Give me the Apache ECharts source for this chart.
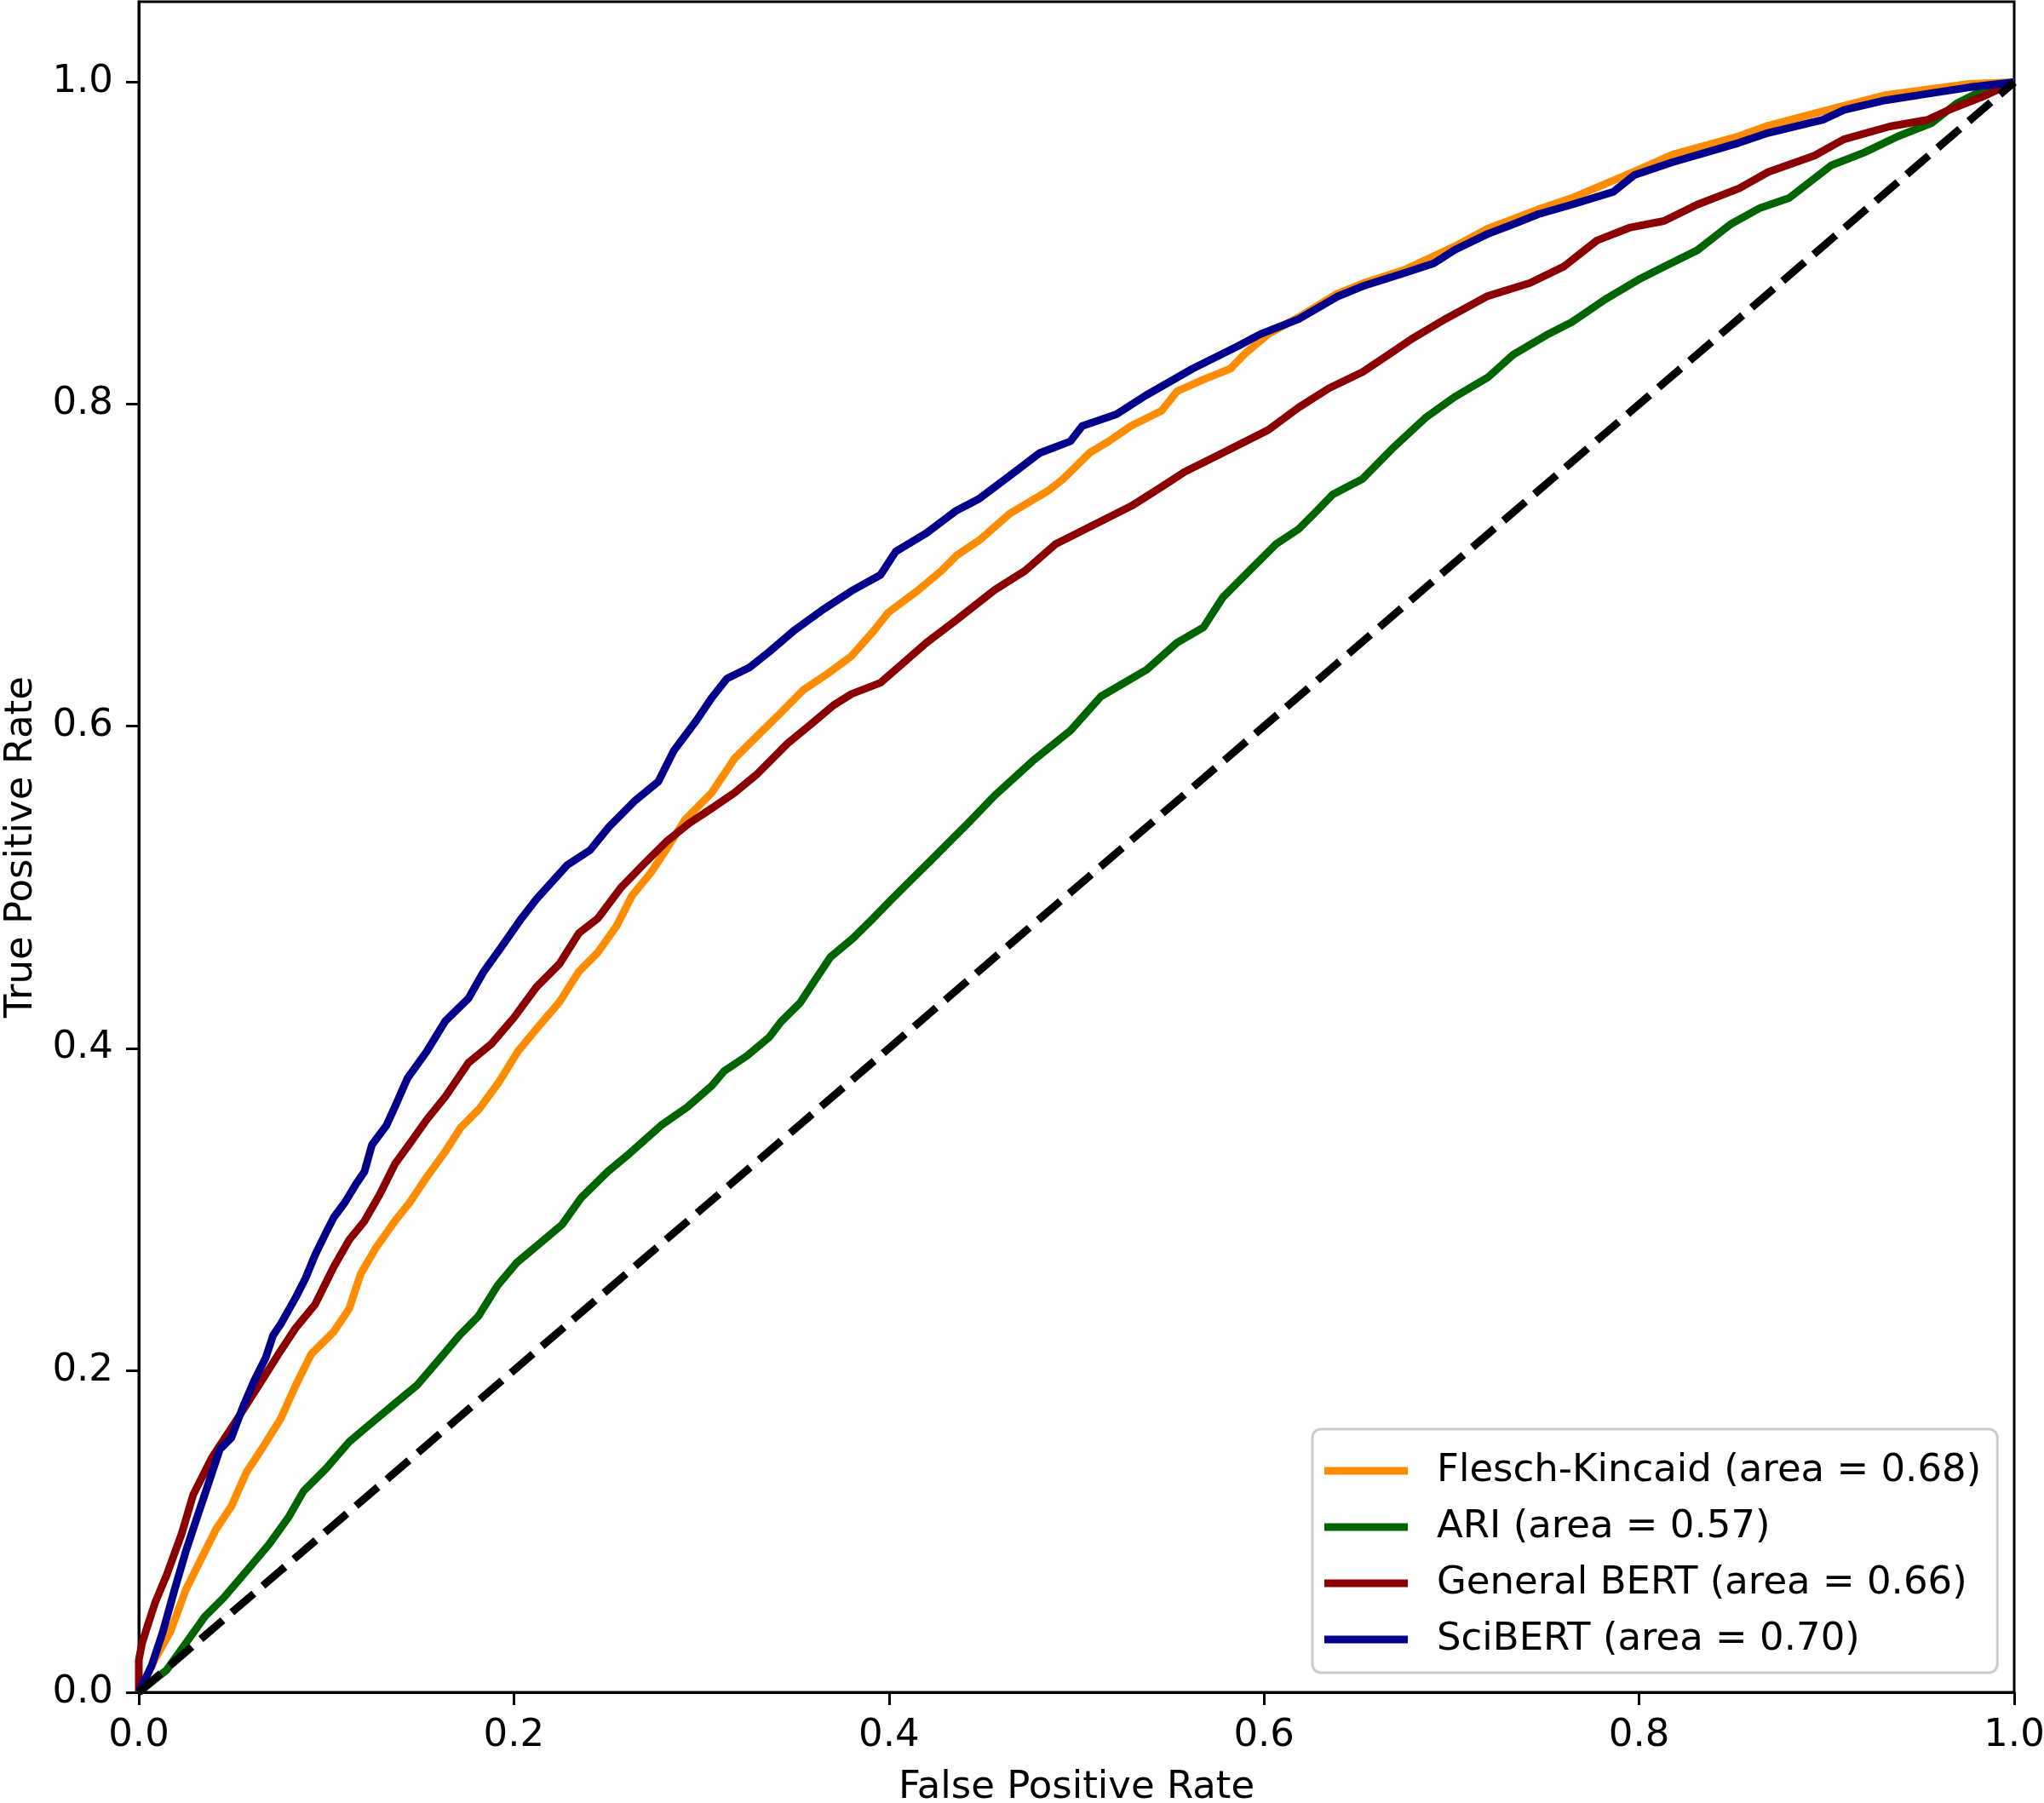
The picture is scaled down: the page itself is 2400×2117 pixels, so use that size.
<!DOCTYPE html>
<html>
<head>
<meta charset="utf-8">
<script src="https://cdn.jsdelivr.net/npm/echarts@6/dist/echarts.min.js"></script>
<style>
html,body{margin:0;padding:0;background:#fff;}
#chart{width:2400px;height:2117px;}
</style>
</head>
<body>
<div id="chart"></div>
<script>
// ---- Data ----
const xTicks = [0, 0.2, 0.4, 0.6, 0.8, 1.0];
const yTicks = [0, 0.2, 0.4, 0.6, 0.8, 1.0];

const seriesNames = [
  'Flesch-Kincaid (area = 0.68)',
  'ARI (area = 0.57)',
  'General BERT (area = 0.66)',
  'SciBERT (area = 0.70)'
];
const seriesColors = ['#FF8C00', '#006400', '#8B0000', '#00008B'];

const fleschKincaid = [[0,0],[0.0088,0.021],[0.0168,0.0375],[0.025,0.0635],[0.0331,0.0825],[0.0412,0.1013],[0.0493,0.1154],[0.0574,0.1367],[0.0655,0.151],[0.0757,0.17],[0.0838,0.191],[0.0919,0.21],[0.104,0.224],[0.1122,0.2383],[0.1183,0.2598],[0.1264,0.276],[0.1365,0.2926],[0.1446,0.3044],[0.1527,0.3186],[0.1629,0.335],[0.1717,0.3508],[0.1817,0.3625],[0.192,0.379],[0.2021,0.398],[0.212,0.412],[0.2243,0.4287],[0.2346,0.4476],[0.2447,0.4594],[0.2548,0.476],[0.263,0.4948],[0.273,0.509],[0.281,0.523],[0.2913,0.542],[0.3055,0.5587],[0.3177,0.58],[0.3298,0.594],[0.342,0.608],[0.3542,0.6224],[0.3663,0.6318],[0.38,0.6436],[0.3915,0.6587],[0.3996,0.6706],[0.4158,0.6847],[0.428,0.6966],[0.436,0.706],[0.4482,0.7155],[0.4644,0.732],[0.4846,0.746],[0.4927,0.7534],[0.507,0.7698],[0.5172,0.777],[0.529,0.7864],[0.5454,0.796],[0.5536,0.808],[0.5677,0.8153],[0.582,0.822],[0.5901,0.8317],[0.6022,0.8435],[0.6185,0.854],[0.6388,0.8685],[0.6526,0.875],[0.6749,0.8835],[0.7016,0.898],[0.7193,0.909],[0.7462,0.921],[0.7641,0.928],[0.7975,0.9445],[0.8177,0.955],[0.8534,0.9665],[0.8688,0.973],[0.898,0.982],[0.9314,0.992],[0.976,0.999],[1,1]];

const ari = [[0,0],[0.0149,0.0139],[0.025,0.0304],[0.0352,0.047],[0.0453,0.0588],[0.0574,0.0753],[0.0695,0.092],[0.0797,0.1085],[0.0878,0.1249],[0.1,0.1391],[0.1122,0.1556],[0.1243,0.1675],[0.1365,0.1793],[0.1486,0.191],[0.1608,0.2076],[0.171,0.2217],[0.1811,0.2336],[0.1912,0.2525],[0.2014,0.2667],[0.2135,0.2785],[0.2257,0.2905],[0.2357,0.3069],[0.25,0.3233],[0.262,0.335],[0.2784,0.352],[0.2925,0.3635],[0.3055,0.3767],[0.312,0.3857],[0.3242,0.3952],[0.3363,0.407],[0.3424,0.4164],[0.3526,0.4282],[0.3606,0.4423],[0.3688,0.4566],[0.3809,0.4684],[0.391,0.48],[0.401,0.492],[0.4133,0.5063],[0.4235,0.518],[0.4336,0.5298],[0.4417,0.5392],[0.4564,0.557],[0.4766,0.5784],[0.4968,0.5974],[0.513,0.6185],[0.5374,0.6351],[0.5536,0.6519],[0.5677,0.6614],[0.578,0.68],[0.5942,0.699],[0.6063,0.713],[0.6185,0.7225],[0.6267,0.732],[0.6367,0.744],[0.6526,0.7537],[0.668,0.772],[0.686,0.7915],[0.7016,0.8045],[0.7193,0.8166],[0.7329,0.8308],[0.7507,0.843],[0.7641,0.851],[0.782,0.8652],[0.7997,0.8774],[0.8132,0.8854],[0.831,0.8956],[0.8488,0.9118],[0.8645,0.9219],[0.88,0.9281],[0.9024,0.9483],[0.92,0.9563],[0.9381,0.9664],[0.956,0.9746],[0.9693,0.9868],[0.9828,0.9947],[1,1]];

const generalBERT = [[0,0],[0,0.02],[0.0017,0.0303],[0.0047,0.0415],[0.0088,0.056],[0.0149,0.073],[0.023,0.099],[0.029,0.1227],[0.0392,0.1462],[0.0513,0.1675],[0.0655,0.1934],[0.0757,0.2123],[0.0838,0.2265],[0.0939,0.2407],[0.104,0.2643],[0.1122,0.281],[0.1203,0.2926],[0.1284,0.309],[0.1365,0.328],[0.1446,0.341],[0.1535,0.3556],[0.1635,0.37],[0.1758,0.391],[0.188,0.4027],[0.2,0.419],[0.212,0.438],[0.2243,0.4524],[0.2346,0.4714],[0.2447,0.4806],[0.2569,0.4995],[0.2688,0.5138],[0.281,0.528],[0.2934,0.5397],[0.3055,0.549],[0.3177,0.5587],[0.3298,0.5704],[0.346,0.5894],[0.3582,0.601],[0.3704,0.613],[0.38,0.62],[0.3955,0.627],[0.42,0.6519],[0.436,0.666],[0.4564,0.6847],[0.4726,0.6966],[0.4887,0.713],[0.509,0.7249],[0.5293,0.7368],[0.5454,0.7487],[0.5577,0.758],[0.578,0.7698],[0.6022,0.784],[0.6185,0.798],[0.6347,0.81],[0.6526,0.82],[0.6638,0.8288],[0.6794,0.841],[0.697,0.8531],[0.7193,0.8672],[0.7418,0.8753],[0.7597,0.8854],[0.7775,0.9017],[0.7953,0.9098],[0.8132,0.9138],[0.831,0.924],[0.8534,0.9341],[0.8688,0.9442],[0.8935,0.9544],[0.9091,0.9645],[0.9336,0.9725],[0.9537,0.9766],[0.9649,0.9827],[0.9828,0.9908],[1,1]];

const sciBERT = [[0,0],[0.0068,0.0164],[0.0128,0.0375],[0.019,0.0635],[0.025,0.0873],[0.031,0.1085],[0.0371,0.1296],[0.0432,0.1509],[0.0493,0.158],[0.0554,0.1769],[0.0615,0.1934],[0.0676,0.2076],[0.0716,0.2217],[0.0757,0.2288],[0.0838,0.2455],[0.0889,0.2572],[0.0939,0.2714],[0.0999,0.2857],[0.104,0.295],[0.11,0.3044],[0.116,0.316],[0.1203,0.3233],[0.1243,0.34],[0.132,0.352],[0.1365,0.3635],[0.1433,0.3815],[0.1535,0.398],[0.1635,0.417],[0.1758,0.431],[0.1839,0.4476],[0.194,0.464],[0.204,0.4806],[0.212,0.4926],[0.2284,0.5138],[0.2406,0.523],[0.2507,0.5375],[0.2648,0.554],[0.277,0.5656],[0.2852,0.5847],[0.2974,0.6037],[0.3055,0.6177],[0.3136,0.6296],[0.3256,0.6365],[0.3359,0.646],[0.35,0.66],[0.3643,0.672],[0.38,0.684],[0.3955,0.694],[0.4036,0.7085],[0.42,0.72],[0.436,0.734],[0.4482,0.7414],[0.4644,0.7556],[0.4805,0.7698],[0.4968,0.777],[0.503,0.7864],[0.5212,0.7937],[0.537,0.8055],[0.5618,0.822],[0.586,0.836],[0.598,0.8435],[0.6185,0.8529],[0.6388,0.8667],[0.6526,0.8733],[0.6749,0.8815],[0.6905,0.8875],[0.7016,0.8958],[0.7193,0.9058],[0.7329,0.9118],[0.7462,0.918],[0.7641,0.924],[0.7864,0.932],[0.7975,0.9423],[0.8177,0.9503],[0.8355,0.9563],[0.8534,0.9624],[0.8688,0.9685],[0.898,0.9767],[0.9091,0.9827],[0.9314,0.9888],[0.9537,0.9928],[0.976,0.9968],[1,1]];

const chanceLine = [[0,0],[1,1]];

const xAxisTitle = 'False Positive Rate';
const yAxisTitle = 'True Positive Rate';

// ---- Chart ----
const FONT = '"DejaVu Sans", "Liberation Sans", sans-serif';
const FS = 45;
const seriesData = [fleschKincaid, ari, generalBERT, sciBERT];

const chart = echarts.init(document.getElementById('chart'), null, {renderer: 'canvas'});

const lineSeries = seriesData.map((d, i) => ({
  name: seriesNames[i],
  type: 'line',
  data: d,
  symbol: 'none',
  smooth: false,
  animation: false,
  lineStyle: {color: seriesColors[i], width: 9, cap: 'butt', join: 'round'},
  itemStyle: {color: seriesColors[i]},
  z: 2 + i
}));

lineSeries.push({
  name: 'chance',
  type: 'line',
  data: chanceLine,
  symbol: 'none',
  animation: false,
  lineStyle: {color: '#000', width: 9, type: [34, 14], cap: 'butt'},
  itemStyle: {color: '#000'},
  z: 10
});

const tickFmt = v => (Math.abs(v - Math.round(v * 5) / 5) < 1e-9 && v <= 1.0001) ? v.toFixed(1) : '';

chart.setOption({
  backgroundColor: '#fff',
  animation: false,
  grid: {
    left: 163, right: 35, top: 2, bottom: 130,
    containLabel: false, outerBoundsMode: 'none',
    show: true, borderColor: '#000', borderWidth: 3, backgroundColor: 'transparent'
  },
  xAxis: {
    type: 'value', min: 0, max: 1, interval: 0.2,
    name: xAxisTitle, nameLocation: 'middle', nameGap: 90,
    nameTextStyle: {fontFamily: FONT, fontSize: FS, color: '#000'},
    axisLine: {show: true, lineStyle: {color: '#000', width: 3}},
    axisTick: {show: true, inside: false, length: 15, lineStyle: {color: '#000', width: 3}},
    axisLabel: {fontFamily: FONT, fontSize: FS, color: '#000', margin: 29, formatter: tickFmt},
    splitLine: {show: false}
  },
  yAxis: {
    type: 'value', min: 0, max: 1.05, interval: 0.2,
    name: yAxisTitle, nameLocation: 'middle', nameGap: 115, nameRotate: 90,
    nameTextStyle: {fontFamily: FONT, fontSize: FS, color: '#000'},
    axisLine: {show: true, lineStyle: {color: '#000', width: 3}},
    axisTick: {show: true, inside: false, length: 15, lineStyle: {color: '#000', width: 3}},
    axisLabel: {fontFamily: FONT, fontSize: FS, color: '#000', margin: 30, formatter: tickFmt, showMaxLabel: false},
    splitLine: {show: false}
  },
  legend: {
    data: seriesNames,
    orient: 'vertical',
    left: 1541, top: 1678,
    padding: [26, 19, 16, 14],
    itemGap: 20,
    itemWidth: 98, itemHeight: 9,
    icon: 'rect',
    borderColor: '#cccccc', borderWidth: 3, borderRadius: 10,
    backgroundColor: 'rgba(255,255,255,0.8)',
    textStyle: {fontFamily: FONT, fontSize: FS, color: '#000', padding: [0, 0, 0, 29], lineHeight: 46},
    selectedMode: false
  },
  series: lineSeries
});
</script>
</body>
</html>
